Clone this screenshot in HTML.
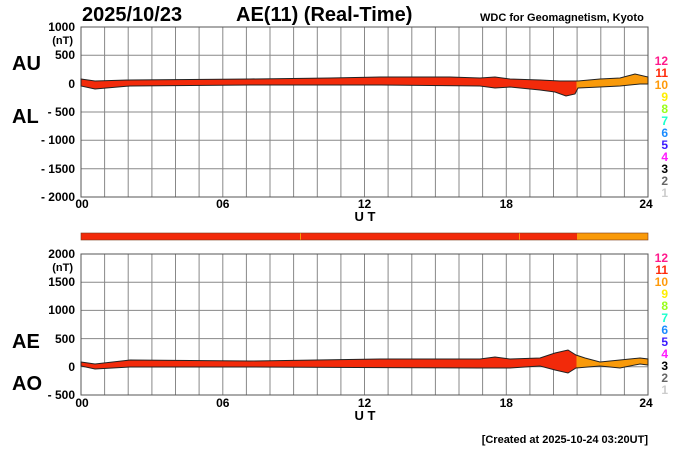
<!DOCTYPE html>
<html><head><meta charset="utf-8"><style>
html,body{margin:0;padding:0;background:#fff;}
svg{display:block;font-family:"Liberation Sans",Arial,sans-serif;}
</style></head><body>
<svg width="700" height="450" viewBox="0 0 700 450">
<defs>
<linearGradient id="g" gradientUnits="userSpaceOnUse" x1="81" y1="0" x2="648" y2="0">
<stop offset="0" stop-color="#f22a0a"/><stop offset="0.874" stop-color="#f22a0a"/>
<stop offset="0.874" stop-color="#f99a0a"/><stop offset="1" stop-color="#f99a0a"/>
</linearGradient>
</defs>
<rect width="700" height="450" fill="#fff"/>
<text x="82" y="21" font-size="20" font-weight="bold">2025/10/23</text>
<text x="236" y="21" font-size="20" font-weight="bold">AE(11) (Real-Time)</text>
<text x="480" y="21" font-size="11" font-weight="bold">WDC for Geomagnetism, Kyoto</text>

<g stroke="#888" stroke-width="1">
<path d="M104.6 27V197M128.2 27V197M151.9 27V197M175.5 27V197M199.1 27V197M222.8 27V197M246.4 27V197M270 27V197M293.6 27V197M317.3 27V197M340.9 27V197M364.5 27V197M388.1 27V197M411.8 27V197M435.4 27V197M459 27V197M482.6 27V197M506.3 27V197M529.9 27V197M553.5 27V197M577.1 27V197M600.8 27V197M624.4 27V197"/>
<path d="M81 55.3H648M81 83.7H648M81 112H648M81 140.3H648M81 168.7H648"/>
</g>
<rect x="81" y="27" width="567" height="170" fill="none" stroke="#555"/>
<path d="M81,79 L95,81 L130,80 L250,79 L330,78 L380,77 L450,77 L480,78 L495,77 L510,79 L540,80 L560,81 L578,81 L600,79 L620,78 L635,74 L648,77 L648,84 L640,84 L620,86 L600,87 L578,88 L575,94 L566,96 L555,92 L540,90 L510,87 L495,88 L480,86 L380,85 L250,85 L130,86 L95,89 L81,86 Z" fill="url(#g)" stroke="#222" stroke-width="1"/>
<g font-size="12" font-weight="bold" text-anchor="end">
<text x="75" y="31">1000</text><text x="73" y="44" font-size="11">(nT)</text>
<text x="75" y="59">500</text><text x="75" y="88">0</text>
<text x="75" y="116">- 500</text><text x="75" y="144">- 1000</text>
<text x="75" y="173">- 1500</text><text x="75" y="201">- 2000</text>
</g>
<text x="12" y="70" font-size="20" font-weight="bold">AU</text>
<text x="12" y="123" font-size="20" font-weight="bold">AL</text>
<g font-size="12" font-weight="bold" text-anchor="middle">
<text x="82" y="208">00</text><text x="222.8" y="208">06</text><text x="364.5" y="208">12</text><text x="506.3" y="208">18</text><text x="646" y="208">24</text>
</g>
<text x="365" y="221" font-size="13" font-weight="bold" text-anchor="middle">U T</text>

<rect x="81" y="233" width="496" height="7" fill="#f22a0a"/>
<rect x="577" y="233" width="71" height="7" fill="#f99a0a"/>
<rect x="300" y="233" width="1" height="7" fill="#f99a0a"/>
<rect x="519" y="233" width="1" height="7" fill="#f99a0a"/>
<rect x="81" y="233" width="567" height="7" fill="none" stroke="#7a3a1a" stroke-width="0.6"/>

<g stroke="#888" stroke-width="1">
<path d="M104.6 254V395M128.2 254V395M151.9 254V395M175.5 254V395M199.1 254V395M222.8 254V395M246.4 254V395M270 254V395M293.6 254V395M317.3 254V395M340.9 254V395M364.5 254V395M388.1 254V395M411.8 254V395M435.4 254V395M459 254V395M482.6 254V395M506.3 254V395M529.9 254V395M553.5 254V395M577.1 254V395M600.8 254V395M624.4 254V395"/>
<path d="M81 282.2H648M81 310.4H648M81 338.6H648M81 366.8H648"/>
</g>
<rect x="81" y="254" width="567" height="141" fill="none" stroke="#555"/>
<path d="M81,362 L95,364 L130,360 L250,361 L380,359 L480,359 L495,357 L510,359 L540,358 L555,353 L568,350 L576,355 L585,358 L600,362 L620,360 L640,358 L648,359 L648,365 L640,364 L620,368 L600,366 L576,368 L568,373 L555,370 L540,366 L510,368 L480,368 L250,367 L130,367 L95,369 L81,366 Z" fill="url(#g)" stroke="#222" stroke-width="1"/>
<g font-size="12" font-weight="bold" text-anchor="end">
<text x="75" y="258">2000</text><text x="73" y="271" font-size="11">(nT)</text>
<text x="75" y="286">1500</text><text x="75" y="314">1000</text>
<text x="75" y="343">500</text><text x="75" y="371">0</text><text x="75" y="399">- 500</text>
</g>
<text x="12" y="348" font-size="20" font-weight="bold">AE</text>
<text x="12" y="390" font-size="20" font-weight="bold">AO</text>
<g font-size="12" font-weight="bold" text-anchor="middle">
<text x="82" y="407">00</text><text x="222.8" y="407">06</text><text x="364.5" y="407">12</text><text x="506.3" y="407">18</text><text x="646" y="407">24</text>
</g>
<text x="365" y="420" font-size="13" font-weight="bold" text-anchor="middle">U T</text>
<text x="648" y="443" font-size="11" font-weight="bold" text-anchor="end">[Created at 2025-10-24 03:20UT]</text>

<g font-size="12" font-weight="bold" text-anchor="end">
<g>
<text x="668" y="65" fill="#ff1a8c">12</text><text x="668" y="77" fill="#ff2a0a">11</text><text x="668" y="89" fill="#ff9a0a">10</text>
<text x="668" y="101" fill="#ffee00">9</text><text x="668" y="113" fill="#99ff1a">8</text><text x="668" y="125" fill="#1affcc">7</text>
<text x="668" y="137" fill="#1a8cff">6</text><text x="668" y="149" fill="#3a1aff">5</text><text x="668" y="161" fill="#ff1aff">4</text>
<text x="668" y="173" fill="#000">3</text><text x="668" y="185" fill="#666">2</text><text x="668" y="197" fill="#ccc">1</text>
</g>
<g>
<text x="668" y="262" fill="#ff1a8c">12</text><text x="668" y="274" fill="#ff2a0a">11</text><text x="668" y="286" fill="#ff9a0a">10</text>
<text x="668" y="298" fill="#ffee00">9</text><text x="668" y="310" fill="#99ff1a">8</text><text x="668" y="322" fill="#1affcc">7</text>
<text x="668" y="334" fill="#1a8cff">6</text><text x="668" y="346" fill="#3a1aff">5</text><text x="668" y="358" fill="#ff1aff">4</text>
<text x="668" y="370" fill="#000">3</text><text x="668" y="382" fill="#666">2</text><text x="668" y="394" fill="#ccc">1</text>
</g>
</g>
</svg>
</body></html>
